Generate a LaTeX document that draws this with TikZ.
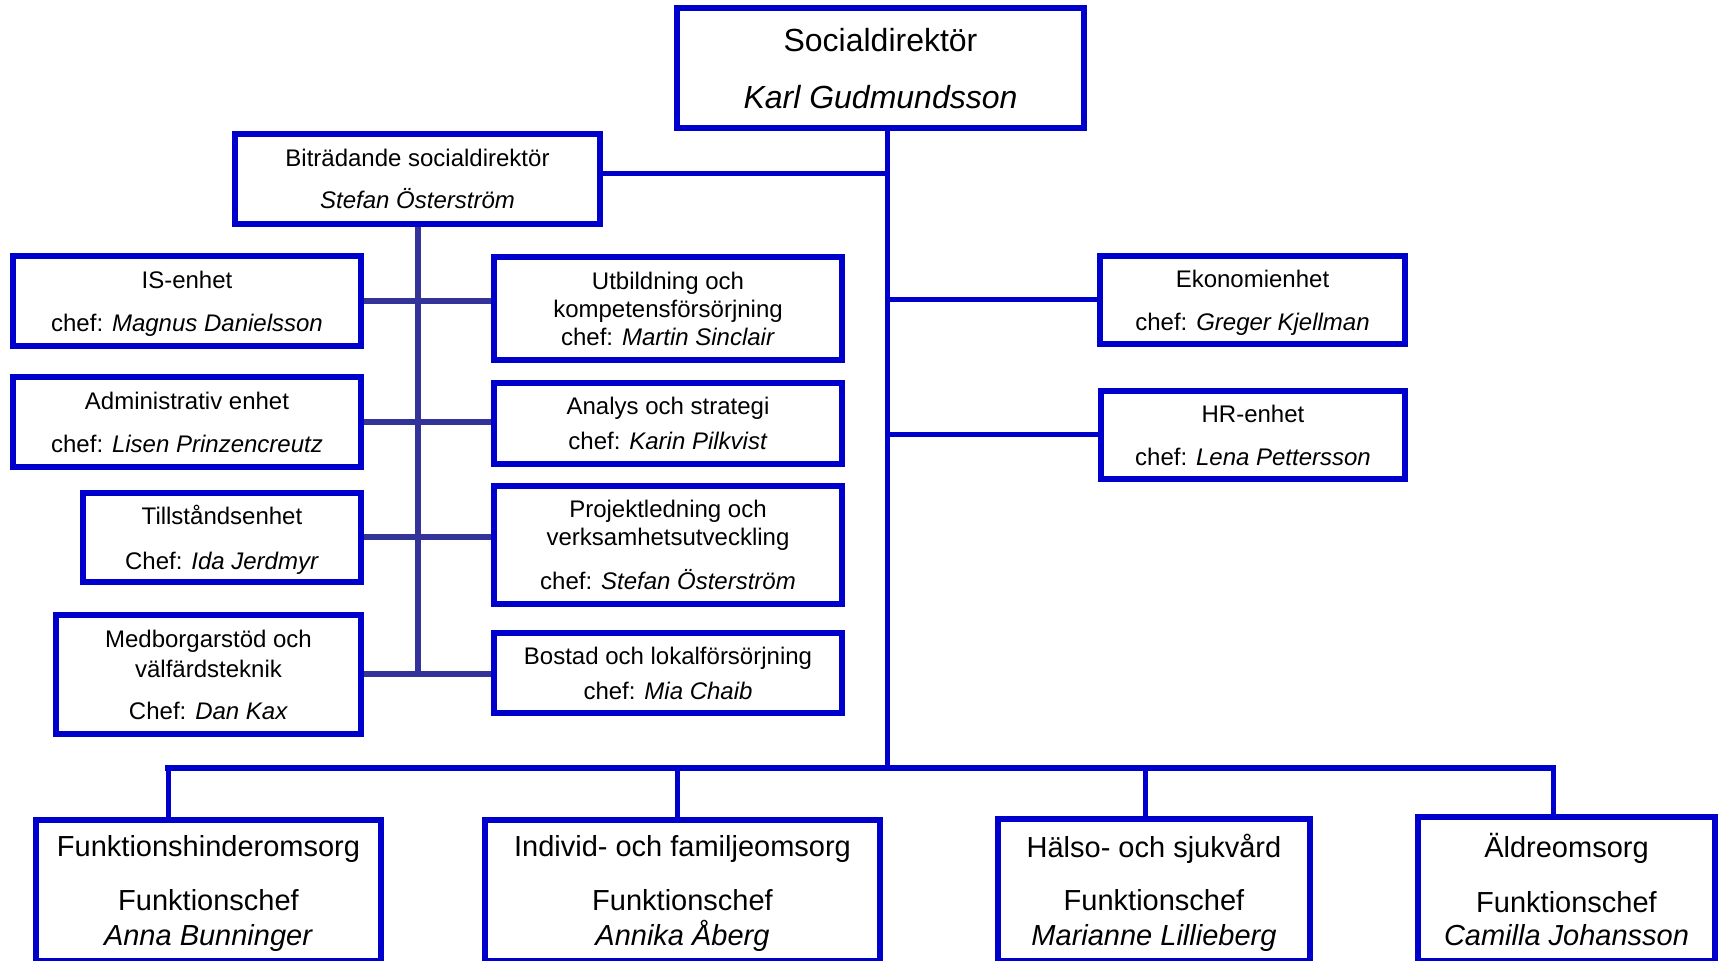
\documentclass[tikz,border=0pt]{standalone}
\usepackage{fontspec}
\setmainfont{Liberation Sans}
\usetikzlibrary{backgrounds}
\definecolor{boxblue}{RGB}{0,0,204}
\definecolor{linkblue}{RGB}{51,51,153}
\tikzset{
	unit/.style={draw=boxblue, fill=white, line width=3pt, rectangle, align=center, inner sep=0pt, text depth=0pt, font=\fontsize{12}{14}\selectfont},
	bigunit/.style={unit, font=\fontsize{14.5}{17.5}\selectfont},
	link/.style={draw=linkblue, line width=3pt},
	trunk/.style={draw=boxblue, line width=2.5pt}
}
\begin{document}
\begin{tikzpicture}[x=0.5pt,y=-0.5pt]
		\useasboundingbox (0,0) rectangle (1720,961);
		\node[unit, minimum width=203.5pt, minimum height=60pt, font=\fontsize{16}{19}\selectfont] (chief) at (880.5,68) {Socialdirektör\\[9.5pt]\textit{Karl Gudmundsson}};
		\node[unit, minimum width=182.5pt, minimum height=45pt] (deputy) at (417.5,179) {Biträdande socialdirektör\\[7pt]\textit{Stefan Österström}};
		\node[unit, minimum width=174pt, minimum height=45pt] (is) at (187,301) {IS-enhet\\[7.5pt]chef: \textit{Magnus Danielsson}};
		\node[unit, minimum width=174pt, minimum height=45pt] (admin) at (187,422) {Administrativ enhet\\[7.5pt]chef: \textit{Lisen Prinzencreutz}};
		\node[unit, minimum width=139pt, minimum height=44.5pt] (tillstand) at (222,537.5) {Tillståndsenhet\\[8.5pt]Chef: \textit{Ida Jerdmyr}};
		\node[unit, minimum width=152.5pt, minimum height=59.5pt] (medborg) at (208.5,674.5) {Medborgarstöd och\\[1pt]välfärdsteknik\\[7pt]Chef: \textit{Dan Kax}};
		\node[unit, minimum width=174pt, minimum height=51.5pt] (utb) at (668,308.5) {Utbildning och\\kompetensförsörjning\\chef: \textit{Martin Sinclair}};
		\node[unit, minimum width=174pt, minimum height=40.5pt] (analys) at (668,423.5) {Analys och strategi\\[3.5pt]chef: \textit{Karin Pilkvist}};
		\node[unit, minimum width=174pt, minimum height=59pt] (projekt) at (668,545) {Projektledning och\\verksamhetsutveckling\\[8pt]chef: \textit{Stefan Österström}};
		\node[unit, minimum width=174pt, minimum height=40pt] (bostad) at (668,673) {Bostad och lokalförsörjning\\[3.5pt]chef: \textit{Mia Chaib}};
		\node[unit, minimum width=152.5pt, minimum height=44pt] (ekonomi) at (1252.5,300) {Ekonomienhet\\[7.5pt]chef: \textit{Greger Kjellman}};
		\node[unit, minimum width=152pt, minimum height=44pt] (hr) at (1253,435) {HR-enhet\\[7.5pt]chef: \textit{Lena Pettersson}};
		\node[bigunit, minimum width=172.5pt, minimum height=70.5pt] (fho) at (208.5,890.5) {Funktionshinderomsorg\\[9.5pt]Funktionschef\\\textit{Anna Bunninger}};
		\node[bigunit, minimum width=197.5pt, minimum height=70.5pt] (ifo) at (682.5,890.5) {Individ- och familjeomsorg\\[9.5pt]Funktionschef\\\textit{Annika Åberg}};
		\node[bigunit, minimum width=156pt, minimum height=71pt] (hs) at (1154,890) {Hälso- och sjukvård\\[9pt]Funktionschef\\\textit{Marianne Lillieberg}};
		\node[bigunit, minimum width=148.5pt, minimum height=72pt] (aldre) at (1566.5,889) {Äldreomsorg\\[10pt]Funktionschef\\[-1pt]\textit{Camilla Johansson}};
		\coordinate (hub) at (887,768);
		\coordinate (t1) at (887,174);
		\coordinate (b1) at (168,768);
		\coordinate (b2) at (677,768);
		\coordinate (b3) at (1145,768);
		\coordinate (b4) at (1553,768);
		\begin{scope}[on background layer]
			\draw[trunk] (chief.south -| hub) -- (hub);
			\draw[trunk] (deputy.east |- t1) -- (t1);
			\draw[trunk] (ekonomi.west) -- (ekonomi.west -| hub);
			\draw[trunk] (hr.west) -- (hr.west -| hub);
			\draw[trunk, line width=3pt, line cap=rect] (b1) -- (b4);
			\foreach \b/\u in {b1/fho, b2/ifo, b3/hs, b4/aldre}
				\draw[trunk] (\b) -- (\b |- \u.north);
			\draw[link] (deputy.south) -- (deputy.south |- medborg.east);
			\foreach \a/\b in {is/utb, admin/analys, tillstand/projekt, medborg/bostad}
				\draw[link] (\a.east) -- (\a.east -| \b.west);
		\end{scope}
	\end{tikzpicture}
\end{document}
